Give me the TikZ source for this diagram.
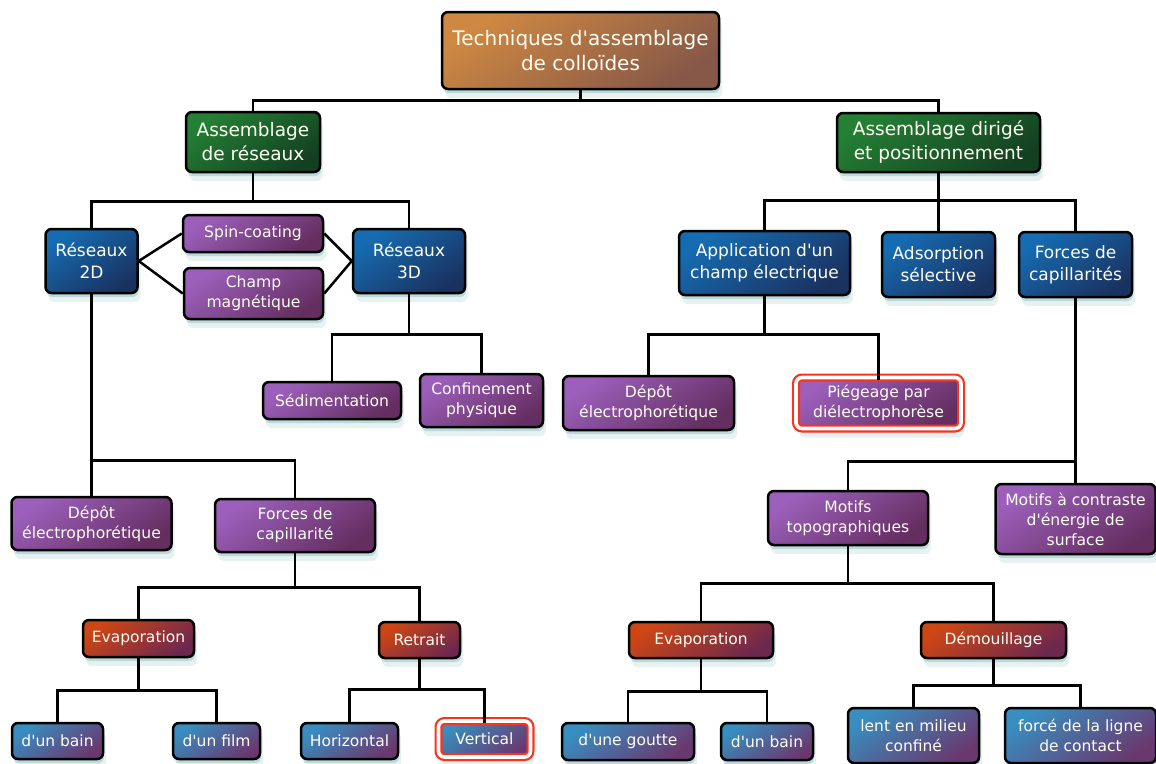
\documentclass[tikz,border=0pt]{standalone}
\usepackage{fontspec}
\setmainfont{DejaVu Sans}[Ligatures=TeXOff]
\usepackage{tikz}
\usetikzlibrary{shadows}
\definecolor{brownA}{RGB}{206,136,66}
\definecolor{brownB}{RGB}{135,88,72}
\definecolor{greenA}{RGB}{36,128,52}
\definecolor{greenB}{RGB}{20,64,34}
\definecolor{blueA}{RGB}{22,108,178}
\definecolor{blueB}{RGB}{26,50,96}
\definecolor{purpA}{RGB}{156,96,188}
\definecolor{purpB}{RGB}{100,46,96}
\definecolor{redA}{RGB}{206,70,20}
\definecolor{redB}{RGB}{108,40,78}
\definecolor{cyanA}{RGB}{56,142,192}
\definecolor{cyanB}{RGB}{106,56,110}
\definecolor{glowC}{RGB}{92,162,162}
\definecolor{ringC}{RGB}{250,52,28}
\tikzset{
  box_/.style     = {shape=rectangle, draw=black, line width=2.5pt, rounded corners=6pt,
                     align=center, text=white!95!yellow, inner sep=2pt,
                     general shadow={fill=glowC, opacity=.30, shadow yshift=-4pt, shadow xshift=1pt},
                     general shadow={fill=glowC, opacity=.15, shadow yshift=-9pt, shadow xshift=3pt}},
  root_/.style    = {box_, top color=brownA, bottom color=brownB, shading angle=35,
                     font=\fontsize{20}{25}\selectfont},
  green_/.style   = {box_, top color=greenA, bottom color=greenB, shading angle=35,
                     font=\fontsize{18.5}{24}\selectfont},
  blue_/.style    = {box_, top color=blueA, bottom color=blueB, shading angle=35,
                     font=\fontsize{17}{22}\selectfont},
  purple_/.style  = {box_, top color=purpA, bottom color=purpB, shading angle=35,
                     font=\fontsize{15.6}{20}\selectfont},
  red_/.style     = {box_, top color=redA, bottom color=redB, shading angle=35,
                     font=\fontsize{15.5}{20}\selectfont},
  cyan_/.style    = {box_, top color=cyanA, bottom color=cyanB, shading angle=35,
                     font=\fontsize{15.5}{20}\selectfont},
  hilite_/.style  = {draw=ringC, line width=2.2pt, double=white, double distance=3.6pt},
  sz_/.style 2 args = {minimum width=#1pt, minimum height=#2pt},
  link_/.style    = {draw, line width=2.5pt}
}
\begin{document}
\begin{tikzpicture}
		[
		x                   = 1pt,
		y                   = -1pt,
		every path/.style   = {line join=miter}
		]
		\useasboundingbox (0,0) rectangle (1156,763);
		% top levels
		\node [root_, sz_={277}{77}] (top) at (580.5,50.5) {Techniques d'assemblage\\de colloïdes};
		\node [green_, sz_={134}{60}] (asmR) at (253,142) {Assemblage\\de réseaux};
		\node [green_, sz_={203}{59}] (asmD) at (938.5,142.5) {Assemblage dirigé\\et positionnement};
		% left branch
		\node [blue_, sz_={92}{64}] (r2d) at (91.5,261) {Réseaux\\2D};
		\node [purple_, sz_={140}{37}] (spin) at (253,233.5) {Spin-coating};
		\node [purple_, sz_={139}{51}] (champ) at (253.5,293.5) {Champ\\magnétique};
		\node [blue_, sz_={112}{64}] (r3d) at (409,261) {Réseaux\\3D};
		\node [purple_, sz_={138}{37}] (sedim) at (332,400.5) {Sédimentation};
		\node [purple_, sz_={123}{53}] (confin) at (481.5,400.5) {Confinement\\physique};
		\node [purple_, sz_={160}{53}] (depotL) at (91.5,523.5) {Dépôt\\électrophorétique};
		\node [purple_, sz_={160}{53}] (capL) at (295,525.5) {Forces de\\capillarité};
		\node [red_, sz_={111}{37}] (evapL) at (138.5,638.5) {Evaporation};
		\node [red_, sz_={81}{36}] (retrait) at (419.5,640) {Retrait};
		\node [cyan_, sz_={91}{36}] (bainL) at (57.5,741) {d'un bain};
		\node [cyan_, sz_={87}{36}] (film) at (216.5,741) {d'un film};
		\node [cyan_, sz_={97}{36}] (horiz) at (349.5,741) {Horizontal};
		\node [cyan_, hilite_, sz_={92}{36}] (vert) at (484.5,739) {Vertical};
		% right branch
		\node [blue_, sz_={171}{64}] (appli) at (764.5,263) {Application d'un\\champ électrique};
		\node [blue_, sz_={113}{65}] (adsor) at (938.5,264.5) {Adsorption\\sélective};
		\node [blue_, sz_={113}{65}] (capC) at (1075.5,264.5) {Forces de\\capillarités};
		\node [purple_, sz_={171}{54}] (depotR) at (648.5,403) {Dépôt\\électrophorétique};
		\node [purple_, hilite_, sz_={165}{51}] (piege) at (878.5,403) {Piégeage par\\diélectrophorèse};
		\node [purple_, sz_={160}{54}] (motifT) at (848,518) {Motifs\\topographiques};
		\node [purple_, sz_={160}{70}] (motifC) at (1075.5,519) {Motifs à contraste\\d'énergie de\\surface};
		\node [red_, sz_={144}{36}] (evapR) at (701,640) {Evaporation};
		\node [red_, sz_={145}{36}] (demou) at (993.5,640) {Démouillage};
		\node [cyan_, sz_={132}{37}] (goutte) at (628,741.5) {d'une goutte};
		\node [cyan_, sz_={92}{37}] (bainR) at (767,741.5) {d'un bain};
		\node [cyan_, sz_={131}{55}] (lent) at (913.5,735.5) {lent en milieu\\confiné};
		\node [cyan_, sz_={151}{55}] (force) at (1080.5,735.5) {forcé de la ligne\\de contact};
		% connectors
		\draw [link_] (top.south) -- ++(0,10) -| (asmR.north);
		\draw [link_] (top.south) -- ++(0,10) -| (asmD.north);
		\draw [link_] (asmR.south) -- ++(0,28) -| (r2d.north);
		\draw [link_] (asmR.south) -- ++(0,28) -| (r3d.north);
		\draw [link_] (r2d.east) -- (spin.west);
		\draw [link_] (r2d.east) -- (champ.west);
		\draw [link_] (spin.east) -- (r3d.west);
		\draw [link_] (champ.east) -- (r3d.west);
		\draw [link_] (r3d.south) -- ++(0,40) -| (sedim.north);
		\draw [link_] (r3d.south) -- ++(0,40) -| (confin.north);
		\draw [link_] (r2d.south) -- (depotL.north);
		\draw [link_] (r2d.south) -- ++(0,166) -| (capL.north);
		\draw [link_] (capL.south) -- ++(0,34) -| (evapL.north);
		\draw [link_] (capL.south) -- ++(0,34) -| (retrait.north);
		\draw [link_] (evapL.south) -- ++(0,32) -| (bainL.north);
		\draw [link_] (evapL.south) -- ++(0,32) -| (film.north);
		\draw [link_] (retrait.south) -- ++(0,30) -| (horiz.north);
		\draw [link_] (retrait.south) -- ++(0,30) -| ([yshift=-3pt]vert.north);
		\draw [link_] (asmD.south) -- ++(0,27) -| (appli.north);
		\draw [link_] (asmD.south) -- (adsor.north);
		\draw [link_] (asmD.south) -- ++(0,27) -| (capC.north);
		\draw [link_] (appli.south) -- ++(0,38) -| (depotR.north);
		\draw [link_] (appli.south) -- ++(0,38) -| ([yshift=-4pt]piege.north);
		\draw [link_] (capC.south) -- ++(0,163) -| (motifT.north);
		\draw [link_] (capC.south) -- (motifC.north);
		\draw [link_] (motifT.south) -- ++(0,37) -| (evapR.north);
		\draw [link_] (motifT.south) -- ++(0,37) -| (demou.north);
		\draw [link_] (evapR.south) -- ++(0,32) -| (goutte.north);
		\draw [link_] (evapR.south) -- ++(0,32) -| (bainR.north);
		\draw [link_] (demou.south) -- ++(0,26) -| (lent.north);
		\draw [link_] (demou.south) -- ++(0,26) -| (force.north);
\end{tikzpicture}
\end{document}
